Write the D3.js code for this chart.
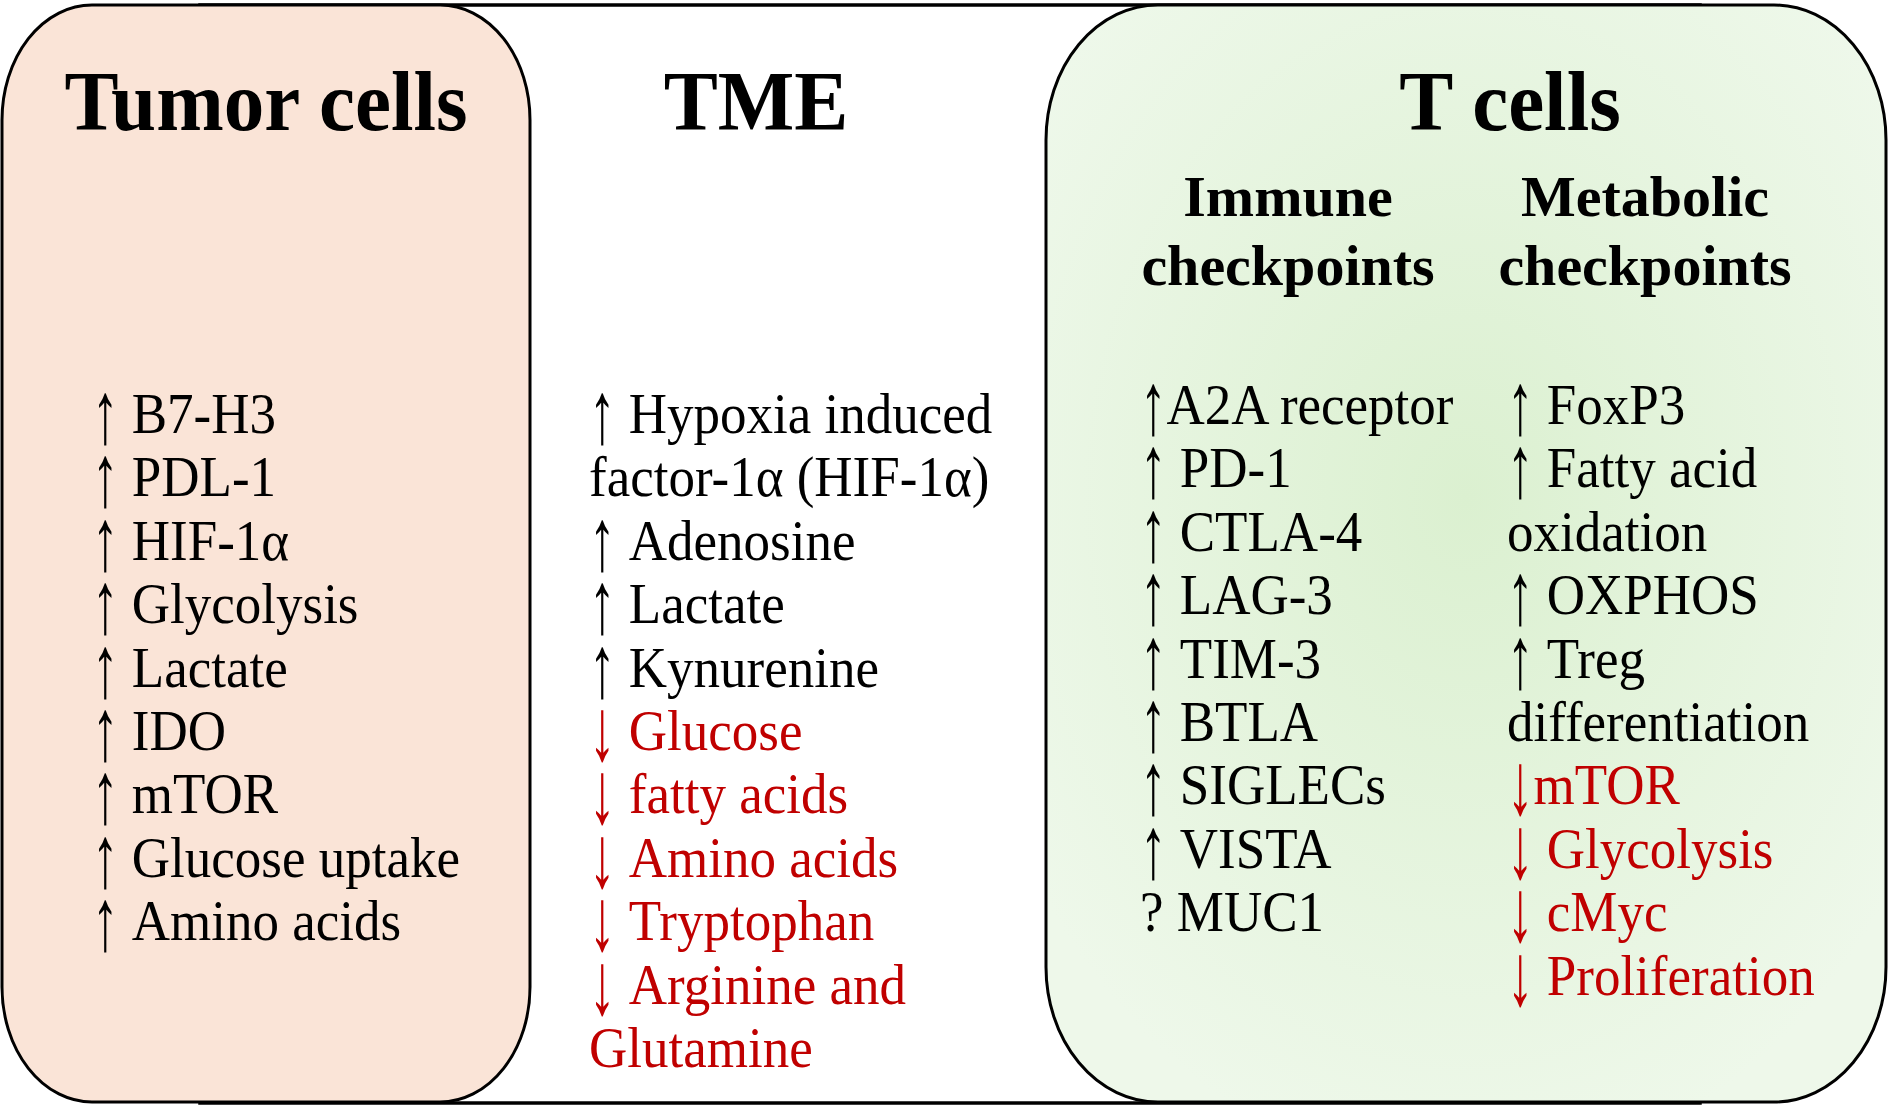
<!DOCTYPE html>
<html>
<head>
<meta charset="utf-8">
<script src="https://cdn.jsdelivr.net/npm/d3@7"></script>
<style>
  html, body { margin: 0; padding: 0; background: #fff; }
  svg { display: block; }
  text { font-family: "Liberation Serif", "Times New Roman", serif; }
</style>
</head>
<body>
<svg id="chart"></svg>
<script>
var width = 1890, height = 1107;

// panel titles
var titles = ["Tumor cells", "TME", "T cells"];
var subTitles = [["Immune", "checkpoints"], ["Metabolic", "checkpoints"]];

// list rows, a row with no arrow continues the row above
var tumorItems = ["↑ B7-H3", "↑ PDL-1", "↑ HIF-1α", "↑ Glycolysis", "↑ Lactate",
  "↑ IDO", "↑ mTOR", "↑ Glucose uptake", "↑ Amino acids"];
var tmeItems = ["↑ Hypoxia induced", "factor-1α (HIF-1α)", "↑ Adenosine", "↑ Lactate",
  "↑ Kynurenine", "↓ Glucose", "↓ fatty acids", "↓ Amino acids", "↓ Tryptophan",
  "↓ Arginine and", "Glutamine"];
var immuneItems = ["↑A2A receptor", "↑ PD-1", "↑ CTLA-4", "↑ LAG-3", "↑ TIM-3",
  "↑ BTLA", "↑ SIGLECs", "↑ VISTA", "? MUC1"];
var metabolicItems = ["↑ FoxP3", "↑ Fatty acid", "oxidation", "↑ OXPHOS", "↑ Treg",
  "differentiation", "↓mTOR", "↓ Glycolysis", "↓ cMyc", "↓ Proliferation"];

var red = "#c00000";
var sx = 0.93;   // the original type is a little narrow
var bodySize = 57;

var svg = d3.select("#chart").attr("width", width).attr("height", height);

var defs = svg.append("defs");
var grad = defs.append("radialGradient").attr("id", "greenFill")
  .attr("cx", "50%").attr("cy", "45%").attr("r", "62%");
grad.append("stop").attr("offset", "0%").attr("stop-color", "#dbf0d0");
grad.append("stop").attr("offset", "100%").attr("stop-color", "#eef8ea");

// outer frame, its sides sit behind the two boxes
svg.append("rect")
  .attr("x", 200).attr("y", 5).attr("width", 1500).attr("height", 1098)
  .attr("fill", "#fff").attr("stroke", "#000").attr("stroke-width", 3.5);

svg.append("rect")
  .attr("x", 2).attr("y", 5).attr("width", 528).attr("height", 1097)
  .attr("rx", 90).attr("ry", 115)
  .attr("fill", "#fae4d7").attr("stroke", "#000").attr("stroke-width", 3);

svg.append("rect")
  .attr("x", 1046).attr("y", 5).attr("width", 840).attr("height", 1097)
  .attr("rx", 112).attr("ry", 135)
  .attr("fill", "url(#greenFill)").attr("stroke", "#000").attr("stroke-width", 3);

function place(sel, x, y, kx, ky) {
  return sel.attr("transform", "translate(" + x + "," + y + ") scale(" + (kx || sx) + "," + (ky || 1) + ")");
}

// titles
var titleX = [266, 756, 1510];
titles.forEach(function(t, i) {
  place(svg.append("text"), titleX[i], 130, 0.965)
    .attr("text-anchor", "middle")
    .attr("font-size", 84).attr("font-weight", "bold")
    .text(t);
});

var subX = [1288, 1645];
subTitles.forEach(function(lines, i) {
  lines.forEach(function(t, j) {
    place(svg.append("text"), subX[i], 216 + j * 69, 1.0)
      .attr("text-anchor", "middle")
      .attr("font-size", 58).attr("font-weight", "bold")
      .text(t);
  });
});

// width of a piece of body text, before the x squeeze
var probe = svg.append("text").attr("font-size", bodySize).attr("x", -999).attr("y", -999);
function textWidth(s) {
  probe.text(s);
  return probe.node().getComputedTextLength();
}

// row scale, same step in every column
var step = 63.4;
function rowY(first) {
  return d3.scaleLinear().domain([0, 1]).range([first, first + step]);
}

function drawList(items, x, first) {
  var y = rowY(first);
  var isRed = false;
  items.forEach(function(t, i) {
    var c = t.charAt(0);
    if (c === "↓") isRed = true;
    else if (c === "↑" || c === "?") isRed = false;
    var col = isRed ? red : "#000";
    var rest = t, dx = 0;
    if (c === "↑" || c === "↓") {
      // tall thin arrow like the symbol font one
      place(svg.append("text"), x, y(i) + 10, sx, 1.55)
        .attr("font-size", bodySize).attr("fill", col)
        .text(c);
      var spaced = t.charAt(1) === " ";
      dx = textWidth(spaced ? c + "\u00a0" : c) * sx;
      rest = t.slice(spaced ? 2 : 1);
    }
    place(svg.append("text"), x + dx, y(i))
      .attr("font-size", bodySize).attr("fill", col)
      .text(rest);
  });
}

drawList(tumorItems, 92, 433);
drawList(tmeItems, 589, 433);
drawList(immuneItems, 1140, 424);
drawList(metabolicItems, 1507, 424);
probe.remove();
</script>
</body>
</html>
